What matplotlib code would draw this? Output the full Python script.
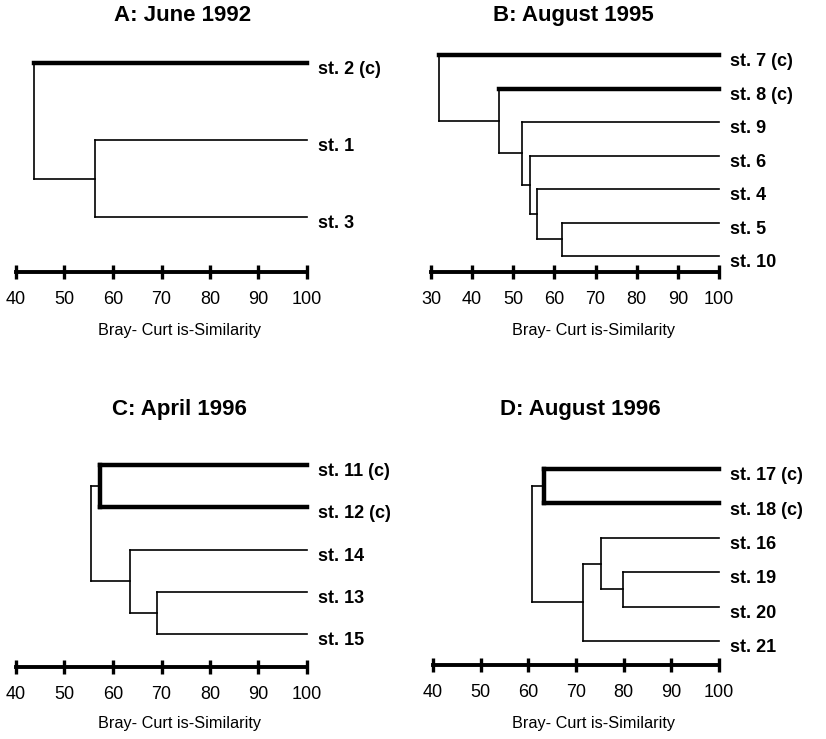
import numpy as np
import matplotlib.pyplot as plt

plt.rcParams['font.family'] = ['Liberation Sans', 'DejaVu Sans']

W, H = 826, 739

# A: June 1992
a_labels = ['st. 2 (c)', 'st. 1', 'st. 3']
a_control = [True, False, False]
a_merges = [(1, 2, 56.3), (0, 3, 43.7)]
a_ticks = [40, 50, 60, 70, 80, 90, 100]

# B: August 1995
b_labels = ['st. 7 (c)', 'st. 8 (c)', 'st. 9', 'st. 6', 'st. 4', 'st. 5', 'st. 10']
b_control = [True, True, False, False, False, False, False]
b_merges = [(5, 6, 61.8), (4, 7, 55.8), (3, 8, 54.0), (2, 9, 52.2), (1, 10, 46.6), (0, 11, 32.0)]
b_ticks = [30, 40, 50, 60, 70, 80, 90, 100]

# C: April 1996
c_labels = ['st. 11 (c)', 'st. 12 (c)', 'st. 14', 'st. 13', 'st. 15']
c_control = [True, True, False, False, False]
c_merges = [(0, 1, 57.3), (3, 4, 69.0), (2, 6, 63.5), (5, 7, 55.4)]
c_ticks = [40, 50, 60, 70, 80, 90, 100]

# D: August 1996
d_labels = ['st. 17 (c)', 'st. 18 (c)', 'st. 16', 'st. 19', 'st. 20', 'st. 21']
d_control = [True, True, False, False, False, False]
d_merges = [(0, 1, 63.3), (3, 4, 79.8), (2, 7, 75.2), (8, 5, 71.4), (6, 9, 60.7)]
d_ticks = [40, 50, 60, 70, 80, 90, 100]

xlabel = 'Bray- Curt is-Similarity'

# pixel layout: x of first tick, x of 100, y first leaf, y last leaf, y of scale bar
panels = [
    dict(title='A: June 1992', labels=a_labels, control=a_control, merges=a_merges,
         ticks=a_ticks, box=(16, 307, 63, 217, 272), title_xy=(183, 21), xlab_xy=(180, 335)),
    dict(title='B: August 1995', labels=b_labels, control=b_control, merges=b_merges,
         ticks=b_ticks, box=(431, 719, 55, 256, 272), title_xy=(573, 21), xlab_xy=(593, 335)),
    dict(title='C: April 1996', labels=c_labels, control=c_control, merges=c_merges,
         ticks=c_ticks, box=(16, 307, 465, 634, 667), title_xy=(179, 415), xlab_xy=(180, 728)),
    dict(title='D: August 1996', labels=d_labels, control=d_control, merges=d_merges,
         ticks=d_ticks, box=(433, 719, 469, 641, 665), title_xy=(580, 415), xlab_xy=(593, 728)),
]

THIN = 1.2
HEAVY = 3.2

fig = plt.figure(figsize=(W / 100, H / 100), dpi=100)


def draw_panel(p):
    x0, x1, ytop, ybot, yaxis = p['box']
    n = len(p['labels'])
    step = (ybot - ytop) / (n - 1)
    bottom = (yaxis - ytop) / step
    top = -12 / step
    ax = fig.add_axes([x0 / W, 1 - yaxis / H, (x1 - x0) / W, (yaxis - ytop + 12) / H])
    ax.set_xlim(p['ticks'][0], 100)
    ax.set_ylim(bottom, top)

    xs = [100.0] * n
    ys = list(range(n))
    ctrl = list(p['control'])
    for a, b, h in p['merges']:
        xs.append(h)
        ys.append((ys[a] + ys[b]) / 2)
        ctrl.append(False)
        both = ctrl[a] and ctrl[b] and a < n and b < n
        for c in (a, b):
            lw = HEAVY if (c < n and ctrl[c]) else THIN
            ax.plot([h, xs[c]], [ys[c], ys[c]], color='black', lw=lw,
                    solid_capstyle='projecting', clip_on=False)
        ax.plot([h, h], [ys[a], ys[b]], color='black', lw=HEAVY if both else THIN,
                solid_capstyle='projecting', clip_on=False)

    for i, lab in enumerate(p['labels']):
        ax.annotate(lab, (100, i), xytext=(8, -8), textcoords='offset points',
                    ha='left', va='baseline', fontsize=13, fontweight='bold',
                    annotation_clip=False)

    for s in ['left', 'right', 'top']:
        ax.spines[s].set_visible(False)
    ax.spines['bottom'].set_linewidth(2.8)
    ax.set_yticks([])
    ax.set_xticks(p['ticks'])
    ax.tick_params(axis='x', direction='inout', length=9.5, width=2.4, pad=9,
                   labelsize=13)
    ax.patch.set_alpha(0)

    tx, ty = p['title_xy']
    fig.text(tx / W, 1 - ty / H, p['title'], ha='center', va='baseline',
             fontsize=16, fontweight='bold')
    lx, ly = p['xlab_xy']
    fig.text(lx / W, 1 - ly / H, xlabel, ha='center', va='baseline', fontsize=11.7)


for p in panels:
    draw_panel(p)

fig.savefig('out.png', dpi=100)
